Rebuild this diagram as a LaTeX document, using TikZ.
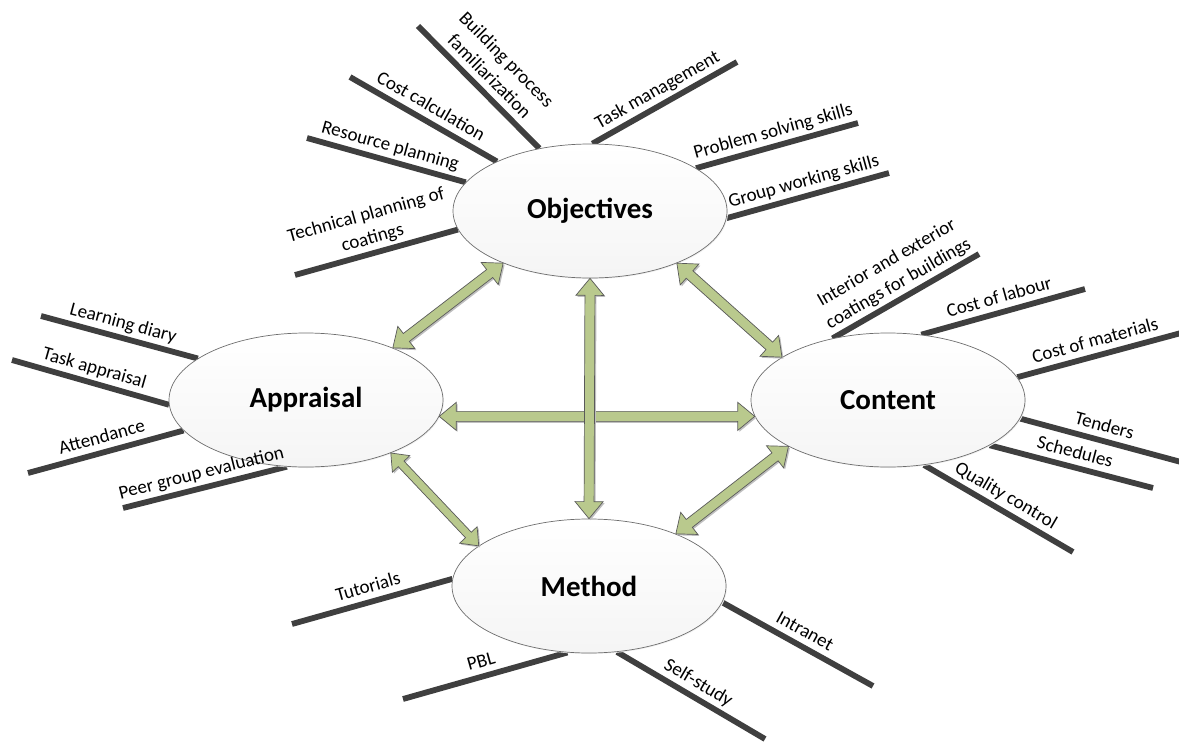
\documentclass[tikz,border=0pt]{standalone}
\usepackage{fontspec}
\setmainfont{Carlito}
\usetikzlibrary{calc,shapes.geometric}
\definecolor{spokec}{HTML}{3F3F3F}
\definecolor{greenfill}{HTML}{B9C98D}
\definecolor{arrowline}{HTML}{5A5A5A}
\definecolor{elline}{HTML}{6E6E6E}
\pgfdeclarelayer{bg}
\pgfsetlayers{bg,main}
\tikzset{
  el/.style={ellipse, minimum width=274pt, minimum height=134pt, inner sep=0pt,
    draw=elline, line width=0.7pt, top color=white, bottom color=black!4,
    preaction={fill=black!6, transform canvas={shift={(1pt,-1pt)}}},
    font=\bfseries\fontsize{29}{35}\selectfont},
  spoke/.style={draw=spokec, line width=5.8pt},
  lbl/.style={midway, sloped, above=4.5pt, inner sep=0pt, text depth=4.5pt,
    align=center, font=\fontsize{19}{24}\selectfont},
  garrow/.style={fill=greenfill, draw=arrowline, line width=0.7pt, line join=miter,
    preaction={fill=black!25, transform canvas={shift={(1.5pt,-1.5pt)}}}},
}
\newcommand\dblarr[5]{%
  \path (#1) coordinate (ta) (#2) coordinate (tb);
  \path ($(ta)!#5!(tb)$) coordinate (ha) ($(tb)!#5!(ta)$) coordinate (hb);
  \draw[garrow] (ta) -- ($(ha)!#4!90:(tb)$) -- ($(ha)!#3!90:(tb)$)
    -- ($(hb)!#3!-90:(ta)$) -- ($(hb)!#4!-90:(ta)$) -- (tb)
    -- ($(hb)!#4!90:(ta)$) -- ($(hb)!#3!90:(ta)$)
    -- ($(ha)!#3!-90:(tb)$) -- ($(ha)!#4!-90:(tb)$) -- cycle;}
% spoke: line behind the ellipses, label in front
\newcommand\spokeline[4]{%
  \begin{pgfonlayer}{bg}\draw[spoke] (#1) -- (#2);\end{pgfonlayer}
  \path (#1) -- (#2) node[lbl] (#3) {#4};}
\begin{document}
\begin{tikzpicture}[x=1pt,y=-1pt]
\useasboundingbox (0,0) rectangle (1179,742);
% central ellipses
\node[el] (obj) at (590,211) {Objectives};
\node[el] (app) at (306,400) {Appraisal};
\node[el] (con) at (888,400) {Content};
\node[el] (met) at (589,586) {Method};
% outer ends of the spokes
\coordinate (eo1) at (295,275);
\coordinate (eo2) at (307,138);
\coordinate (eo3) at (350,77);
\coordinate (eo4) at (418,26);
\coordinate (eo5) at (737,62);
\coordinate (eo6) at (858,123);
\coordinate (eo7) at (889,173);
\coordinate (ea1) at (41,316);
\coordinate (ea2) at (12,360);
\coordinate (ea3) at (28,473);
\coordinate (ea4) at (123,508);
\coordinate (ec1) at (979,254);
\coordinate (ec2) at (1085,289);
\coordinate (ec3) at (1181,333);
\coordinate (ec4) at (1181,462);
\coordinate (ec5) at (1153,488);
\coordinate (ec6) at (1073,552);
\coordinate (em1) at (292,624);
\coordinate (em2) at (403,699);
\coordinate (em3) at (765,739);
\coordinate (em4) at (873,686);
% spokes
\spokeline{obj.188}{eo1}{o1}{Technical planning of\\coatings}
\spokeline{obj.167}{eo2}{o2}{Resource planning}
\spokeline{obj.152}{eo3}{o3}{Cost calculation}
\spokeline{obj.129}{eo4}{o4}{Building process\\familiarization}
\spokeline{obj.88}{eo5}{o5}{Task management}
\spokeline{obj.22}{eo6}{o6}{Problem solving skills}
\spokeline{obj.-3}{eo7}{o7}{Group working skills}
\spokeline{app.159}{ea1}{a1}{Learning diary}
\spokeline{app.182}{ea2}{a2}{Task appraisal}
\spokeline{app.194}{ea3}{a3}{Attendance}
\spokeline{app.254}{ea4}{a4}{Peer group evaluation}
\spokeline{con.132}{ec1}{c1}{Interior and exterior\\coatings for buildings}
\spokeline{con.63}{ec2}{c2}{Cost of labour}
\spokeline{con.10}{ec3}{c3}{Cost of materials}
\spokeline{con.-8}{ec4}{c4}{Tenders}
\spokeline{con.-24}{ec5}{c5}{Schedules}
\spokeline{con.-61}{ec6}{c6}{Quality control}
\spokeline{met.177}{em1}{m1}{Tutorials}
\spokeline{met.252}{em2}{m2}{PBL}
\spokeline{met.293}{em3}{m3}{Self-study}
\spokeline{met.-7}{em4}{m4}{Intranet}
% double arrows
\dblarr{obj.211}{app.31}{5pt}{14pt}{17pt}
\dblarr{obj.329}{con.158}{5pt}{14pt}{17pt}
\dblarr{app.-7}{con.187}{5pt}{14pt}{17pt}
\dblarr{obj.270}{met.90}{5pt}{14pt}{17pt}
\dblarr{app.328}{met.160}{4pt}{12pt}{15pt}
\dblarr{con.205}{met.31}{5pt}{14pt}{17pt}
\end{tikzpicture}
\end{document}
